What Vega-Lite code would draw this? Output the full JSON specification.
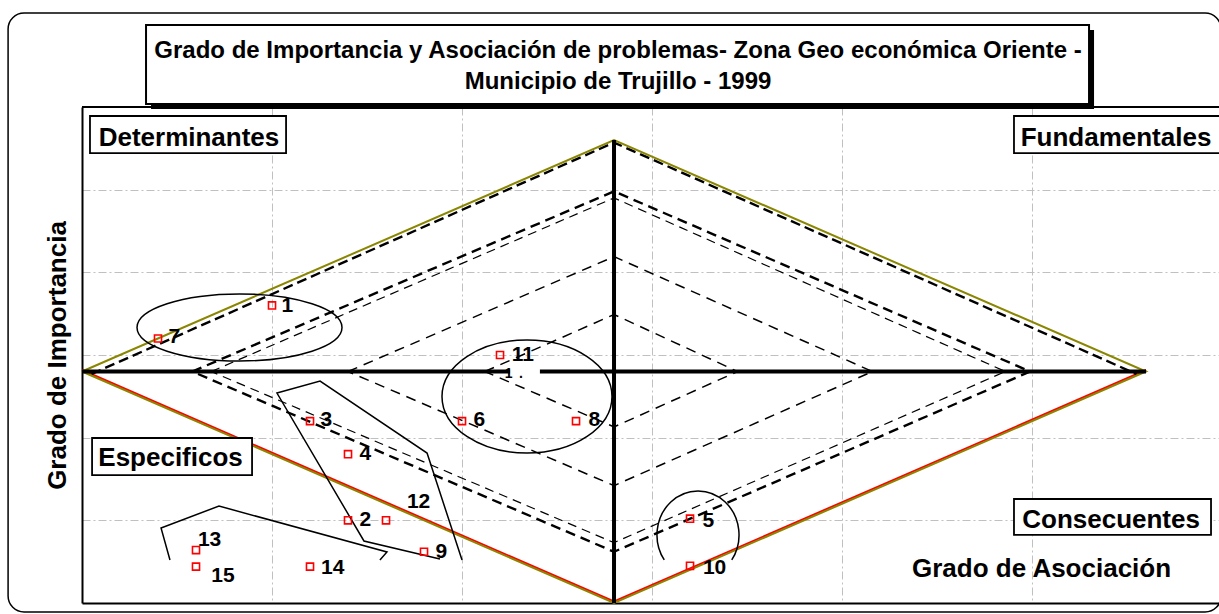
{
  "$schema": "https://vega.github.io/schema/vega-lite/v6.json",
  "width": 1137,
  "height": 496,
  "autosize": {"type": "none"},
  "padding": {"left": 82, "top": 107, "right": 0, "bottom": 11},
  "background": "white",
  "view": {"stroke": null},
  "config": {"text": {"font": "Liberation Sans", "fontWeight": "bold", "color": "black"}},
  "datasets": {
    "frame": [{"x": -0.389, "x2": 5.995, "y": 7.137, "y2": -0.109}],
    "titlebox": [{"x": 0.337, "x2": 5.3, "y": 6.992, "y2": 6.036}],
    "titles": [
      {"x": 2.821, "y": 6.677, "t": "Grado de Importancia y Asociación de problemas- Zona Geo económica Oriente -"},
      {"x": 2.821, "y": 6.302, "t": "Municipio de Trujillo - 1999"}
    ],
    "rules": [
      {"x": 0, "x2": 5.984, "y": 6, "y2": 6, "k": "border"},
      {"x": 0, "x2": 2.253, "y": 2.8, "y2": 2.8, "k": "axis"},
      {"x": 2.41, "x2": 5.6, "y": 2.8, "y2": 2.8, "k": "axis"},
      {"x": 2.8, "x2": 2.8, "y": 0, "y2": 5.6, "k": "axis"}
    ],
    "shapes": [
      {"s": "red", "i": 0, "x": 0, "y": 2.8}, {"s": "red", "i": 1, "x": 2.8, "y": 0}, {"s": "red", "i": 2, "x": 5.6, "y": 2.8},
      {"s": "olive", "i": 0, "x": 0, "y": 2.8}, {"s": "olive", "i": 1, "x": 2.8, "y": 5.6}, {"s": "olive", "i": 2, "x": 5.6, "y": 2.8}, {"s": "olive", "i": 3, "x": 2.8, "y": 0}, {"s": "olive", "i": 4, "x": 0, "y": 2.8},
      {"s": "d1", "i": 0, "x": 0.05, "y": 2.8}, {"s": "d1", "i": 1, "x": 2.8, "y": 5.6}, {"s": "d1", "i": 2, "x": 5.55, "y": 2.8},
      {"s": "d2", "i": 0, "x": 0.58, "y": 2.8}, {"s": "d2", "i": 1, "x": 2.8, "y": 4.98}, {"s": "d2", "i": 2, "x": 4.99, "y": 2.8}, {"s": "d2", "i": 3, "x": 2.8, "y": 0.62}, {"s": "d2", "i": 4, "x": 0.58, "y": 2.8},
      {"s": "d3", "i": 0, "x": 0.68, "y": 2.8}, {"s": "d3", "i": 1, "x": 2.8, "y": 4.9}, {"s": "d3", "i": 2, "x": 4.86, "y": 2.8}, {"s": "d3", "i": 3, "x": 2.8, "y": 0.73}, {"s": "d3", "i": 4, "x": 0.68, "y": 2.8},
      {"s": "d4", "i": 0, "x": 1.4, "y": 2.8}, {"s": "d4", "i": 1, "x": 2.8, "y": 4.19}, {"s": "d4", "i": 2, "x": 4.16, "y": 2.8}, {"s": "d4", "i": 3, "x": 2.8, "y": 1.42}, {"s": "d4", "i": 4, "x": 1.4, "y": 2.8},
      {"s": "d5", "i": 0, "x": 2.12, "y": 2.8}, {"s": "d5", "i": 1, "x": 2.8, "y": 3.49}, {"s": "d5", "i": 2, "x": 3.45, "y": 2.8}, {"s": "d5", "i": 3, "x": 2.8, "y": 2.13}, {"s": "d5", "i": 4, "x": 2.12, "y": 2.8},
      {"s": "p1", "i": 0, "x": 2.0, "y": 0.52}, {"s": "p1", "i": 1, "x": 1.816, "y": 1.814}, {"s": "p1", "i": 2, "x": 1.253, "y": 2.685}, {"s": "p1", "i": 3, "x": 1.026, "y": 2.54}, {"s": "p1", "i": 4, "x": 1.484, "y": 0.75}, {"s": "p1", "i": 5, "x": 1.884, "y": 0.532},
      {"s": "p2", "i": 0, "x": 0.463, "y": 0.52}, {"s": "p2", "i": 1, "x": 0.416, "y": 0.907}, {"s": "p2", "i": 2, "x": 0.721, "y": 1.173}, {"s": "p2", "i": 3, "x": 1.605, "y": 0.617}, {"s": "p2", "i": 4, "x": 1.568, "y": 0.52}
    ],
    "e1": [{"x": 0.829, "y": 3.333}],
    "e2": [{"x": 2.342, "y": 2.498}],
    "e3": [{"x": 3.242, "y": 0.823}],
    "points": [
      {"n": "1", "x": 1.0, "y": 3.6}, {"n": "7", "x": 0.4, "y": 3.2}, {"n": "11", "x": 2.2, "y": 3.0},
      {"n": "3", "x": 1.2, "y": 2.2}, {"n": "6", "x": 2.0, "y": 2.2}, {"n": "8", "x": 2.6, "y": 2.2},
      {"n": "4", "x": 1.4, "y": 1.8}, {"n": "2", "x": 1.4, "y": 1.0}, {"n": "12", "x": 1.6, "y": 1.0},
      {"n": "9", "x": 1.8, "y": 0.62}, {"n": "14", "x": 1.2, "y": 0.44}, {"n": "13", "x": 0.6, "y": 0.64},
      {"n": "15", "x": 0.6, "y": 0.44}, {"n": "5", "x": 3.2, "y": 1.02}, {"n": "10", "x": 3.2, "y": 0.45}
    ],
    "labels": [
      {"t": "1", "x": 1.05, "y": 3.593}, {"t": "7", "x": 0.455, "y": 3.218}, {"t": "11", "x": 2.262, "y": 3.0},
      {"t": "3", "x": 1.255, "y": 2.214}, {"t": "6", "x": 2.06, "y": 2.214}, {"t": "8", "x": 2.666, "y": 2.214},
      {"t": "4", "x": 1.46, "y": 1.802}, {"t": "2", "x": 1.46, "y": 1.004}, {"t": "12", "x": 1.71, "y": 1.222},
      {"t": "9", "x": 1.86, "y": 0.617}, {"t": "14", "x": 1.258, "y": 0.423}, {"t": "13", "x": 0.61, "y": 0.762},
      {"t": "15", "x": 0.68, "y": 0.327}, {"t": "5", "x": 3.266, "y": 0.992}, {"t": "10", "x": 3.268, "y": 0.423}
    ],
    "small": [
      {"t": "1", "x": 2.225, "y": 2.765}, {"t": ".", "x": 2.3, "y": 2.765}
    ],
    "qboxes": [
      {"x": 0.042, "x2": 1.074, "y": 5.891, "y2": 5.443},
      {"x": 4.905, "x2": 6.05, "y": 5.891, "y2": 5.443},
      {"x": 0.053, "x2": 0.895, "y": 1.996, "y2": 1.548},
      {"x": 4.905, "x2": 5.942, "y": 1.258, "y2": 0.823}
    ],
    "qtexts": [
      {"t": "Determinantes", "x": 0.563, "y": 5.628},
      {"t": "Fundamentales", "x": 5.442, "y": 5.628},
      {"t": "Especificos", "x": 0.466, "y": 1.748},
      {"t": "Consecuentes", "x": 5.416, "y": 1.004},
      {"t": "Grado de Asociación", "x": 5.05, "y": 0.417}
    ]
  },
  "encoding": {
    "x": {"field": "x", "type": "quantitative", "scale": {"domain": [0, 5.984], "nice": false, "zero": false},
      "axis": {"title": null, "labels": false, "ticks": false, "values": [1, 2, 3, 4, 5], "grid": true, "gridColor": "#c0c0c0", "gridDash": [8, 3, 2, 3], "gridWidth": 1, "domainColor": "black", "domainWidth": 2}},
    "y": {"field": "y", "type": "quantitative", "scale": {"domain": [0, 6], "nice": false, "zero": false},
      "axis": {"title": "Grado de Importancia", "titleFont": "Liberation Sans", "titleFontSize": 26, "titleFontWeight": "bold", "titleColor": "black", "titlePadding": 12, "labels": false, "ticks": false, "values": [1, 2, 3, 4, 5], "grid": true, "gridColor": "#c0c0c0", "gridDash": [8, 3, 2, 3], "gridWidth": 1, "domainColor": "black", "domainWidth": 2}}
  },
  "layer": [
    {"data": {"name": "frame"}, "mark": {"type": "rect", "filled": false, "stroke": "black", "strokeWidth": 1.5, "cornerRadius": 16},
      "encoding": {"x2": {"field": "x2"}, "y2": {"field": "y2"}}},
    {"data": {"name": "rules"}, "transform": [{"filter": "datum.k == 'border'"}], "mark": {"type": "rule", "color": "black", "strokeWidth": 2},
      "encoding": {"x2": {"field": "x2"}, "y2": {"field": "y2"}}},
    {"data": {"name": "titlebox"}, "mark": {"type": "rect", "color": "black", "xOffset": 5, "x2Offset": 5, "yOffset": 5, "y2Offset": 5},
      "encoding": {"x2": {"field": "x2"}, "y2": {"field": "y2"}}},
    {"data": {"name": "titlebox"}, "mark": {"type": "rect", "fill": "white", "stroke": "black", "strokeWidth": 2},
      "encoding": {"x2": {"field": "x2"}, "y2": {"field": "y2"}}},
    {"data": {"name": "titles"}, "mark": {"type": "text", "fontSize": 24, "align": "center", "baseline": "middle"},
      "encoding": {"text": {"field": "t"}}},
    {"data": {"name": "shapes"}, "transform": [{"filter": "datum.s == 'red'"}], "mark": {"type": "line", "color": "#ff0000", "strokeWidth": 2, "yOffset": -1.5},
      "encoding": {"order": {"field": "i"}}},
    {"data": {"name": "shapes"}, "transform": [{"filter": "datum.s == 'd1'"}], "mark": {"type": "line", "color": "black", "strokeWidth": 2.4, "strokeDash": [10, 5], "yOffset": 2.5},
      "encoding": {"order": {"field": "i"}}},
    {"data": {"name": "shapes"}, "transform": [{"filter": "datum.s == 'olive'"}], "mark": {"type": "line", "color": "#8a8600", "strokeWidth": 2},
      "encoding": {"order": {"field": "i"}}},
    {"data": {"name": "shapes"}, "transform": [{"filter": "datum.s == 'd2'"}], "mark": {"type": "line", "color": "black", "strokeWidth": 2.4, "strokeDash": [10, 6]},
      "encoding": {"order": {"field": "i"}}},
    {"data": {"name": "shapes"}, "transform": [{"filter": "datum.s == 'd3'"}], "mark": {"type": "line", "color": "black", "strokeWidth": 1.2, "strokeDash": [9, 6]},
      "encoding": {"order": {"field": "i"}}},
    {"data": {"name": "shapes"}, "transform": [{"filter": "datum.s == 'd4' || datum.s == 'd5'"}], "mark": {"type": "line", "color": "black", "strokeWidth": 1.5, "strokeDash": [10, 7]},
      "encoding": {"order": {"field": "i"}, "detail": {"field": "s"}}},
    {"data": {"name": "rules"}, "transform": [{"filter": "datum.k == 'axis'"}], "mark": {"type": "rule", "color": "black", "strokeWidth": 4},
      "encoding": {"x2": {"field": "x2"}, "y2": {"field": "y2"}}},
    {"data": {"name": "shapes"}, "transform": [{"filter": "datum.s == 'p1' || datum.s == 'p2'"}], "mark": {"type": "line", "color": "black", "strokeWidth": 1.5},
      "encoding": {"order": {"field": "i"}, "detail": {"field": "s"}}},
    {"data": {"name": "e1"}, "mark": {"type": "point", "shape": "M -1 0 A 1 0.327 0 1 1 1 0 A 1 0.327 0 1 1 -1 0 Z", "size": 42025, "filled": false, "stroke": "black", "strokeWidth": 1.5, "opacity": 1}},
    {"data": {"name": "e2"}, "mark": {"type": "point", "shape": "M -1 0 A 1 0.665 0 1 1 1 0 A 1 0.665 0 1 1 -1 0 Z", "size": 28900, "filled": false, "stroke": "black", "strokeWidth": 1.5, "opacity": 1}},
    {"data": {"name": "e3"}, "mark": {"type": "point", "shape": "M -0.767 0.568 A 0.932 1 0 1 1 0.767 0.568", "size": 7744, "filled": false, "stroke": "black", "strokeWidth": 1.5, "opacity": 1}},
    {"data": {"name": "points"}, "mark": {"type": "point", "shape": "square", "size": 50, "filled": false, "stroke": "#ff0000", "strokeWidth": 1.6, "opacity": 1}},
    {"data": {"name": "labels"}, "mark": {"type": "text", "fontSize": 21, "align": "left", "baseline": "middle"},
      "encoding": {"text": {"field": "t"}}},
    {"data": {"name": "small"}, "mark": {"type": "text", "fontSize": 14, "align": "left", "baseline": "middle"},
      "encoding": {"text": {"field": "t"}}},
    {"data": {"name": "qboxes"}, "mark": {"type": "rect", "fill": "white", "stroke": "black", "strokeWidth": 1.8},
      "encoding": {"x2": {"field": "x2"}, "y2": {"field": "y2"}}},
    {"data": {"name": "qtexts"}, "mark": {"type": "text", "fontSize": 26, "align": "center", "baseline": "middle"},
      "encoding": {"text": {"field": "t"}}}
  ]
}
